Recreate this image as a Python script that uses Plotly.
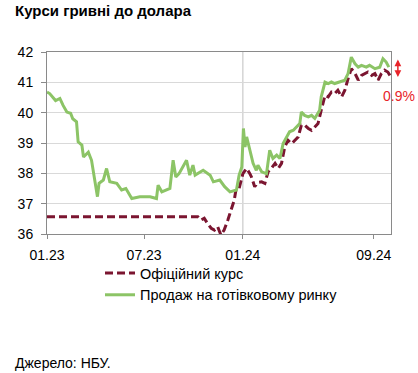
import plotly.graph_objects as go

# Official NBU rate (UAH per USD)
official_dates = [
    "2023-01-01", "2023-10-09", "2023-10-15", "2023-10-21", "2023-10-27", "2023-11-03",
    "2023-11-09", "2023-11-15", "2023-11-21", "2023-11-27", "2023-12-04", "2023-12-10",
    "2023-12-16", "2023-12-19", "2023-12-25", "2024-01-01", "2024-01-08", "2024-01-14",
    "2024-01-17", "2024-01-23", "2024-01-29", "2024-02-05", "2024-02-11", "2024-02-17",
    "2024-02-23", "2024-03-01", "2024-03-07", "2024-03-13", "2024-03-19", "2024-03-25",
    "2024-04-01", "2024-04-07", "2024-04-13", "2024-04-19", "2024-04-25", "2024-05-02",
    "2024-05-08", "2024-05-14", "2024-05-20", "2024-05-26", "2024-06-02", "2024-06-08",
    "2024-06-14", "2024-06-20", "2024-06-26", "2024-07-03", "2024-07-09", "2024-07-15",
    "2024-07-21", "2024-07-28", "2024-08-03", "2024-08-09", "2024-08-15", "2024-08-21",
    "2024-08-28", "2024-09-03", "2024-09-09", "2024-09-15", "2024-09-21", "2024-09-27",
    "2024-10-01",
]
official_values = [
    36.57, 36.57, 36.46, 36.52, 36.35, 36.19,
    36.13, 36.24, 35.97, 36.13, 36.46, 36.79,
    37.12, 37.45, 37.50, 37.99, 38.16, 37.99,
    37.88, 37.56, 37.70, 37.72, 37.67, 38.05,
    38.16, 38.33, 38.16, 38.33, 38.87, 39.09,
    38.98, 39.09, 39.20, 39.59, 39.59, 39.48,
    39.42, 39.53, 39.64, 40.08, 40.57, 40.52,
    40.68, 40.63, 40.74, 40.52, 40.74, 41.12,
    41.45, 41.29, 41.07, 41.23, 41.29, 41.34,
    41.23, 41.29, 41.07, 41.29, 41.40, 41.34,
    41.23,
]

# Cash market selling rate
cash_dates = [
    "2023-01-01", "2023-01-06", "2023-01-17", "2023-01-25", "2023-01-31", "2023-02-07",
    "2023-02-14", "2023-02-18", "2023-02-25", "2023-02-28", "2023-03-07", "2023-03-10",
    "2023-03-19", "2023-03-25", "2023-03-30", "2023-04-05", "2023-04-08", "2023-04-16",
    "2023-04-22", "2023-04-28", "2023-05-11", "2023-05-20", "2023-05-28", "2023-06-08",
    "2023-06-23", "2023-07-12", "2023-07-24", "2023-07-27", "2023-08-03", "2023-08-18",
    "2023-08-24", "2023-08-29", "2023-09-04", "2023-09-18", "2023-09-24", "2023-09-30",
    "2023-10-04", "2023-10-19", "2023-11-01", "2023-11-07", "2023-11-19", "2023-11-28",
    "2023-12-08", "2023-12-20", "2023-12-25", "2023-12-30", "2024-01-02", "2024-01-05",
    "2024-01-08", "2024-01-14", "2024-01-20", "2024-01-26", "2024-01-29", "2024-02-05",
    "2024-02-14", "2024-02-20", "2024-02-26", "2024-03-04", "2024-03-10", "2024-03-16",
    "2024-03-22", "2024-03-28", "2024-04-04", "2024-04-10", "2024-04-16", "2024-04-19",
    "2024-04-25", "2024-05-02", "2024-05-08", "2024-05-14", "2024-05-23", "2024-05-26",
    "2024-06-02", "2024-06-08", "2024-06-14", "2024-06-20", "2024-06-30", "2024-07-09",
    "2024-07-15", "2024-07-21", "2024-07-28", "2024-08-03", "2024-08-09", "2024-08-18",
    "2024-08-24", "2024-09-03", "2024-09-12", "2024-09-18", "2024-09-24", "2024-09-29",
]
cash_values = [
    40.68, 40.63, 40.40, 40.47, 40.24, 40.02,
    39.98, 39.80, 39.70, 39.04, 38.93, 38.54,
    38.70, 38.43, 37.88, 37.23, 37.67, 37.78,
    38.16, 37.72, 37.67, 37.45, 37.50, 37.17,
    37.23, 37.23, 37.17, 37.61, 37.39, 37.50,
    38.43, 37.88, 37.99, 38.43, 37.94, 38.27,
    37.94, 38.10, 37.94, 37.72, 37.78, 37.56,
    37.39, 37.45, 37.94, 38.21, 39.48, 38.87,
    39.20, 38.76, 38.33, 38.10, 38.27, 38.05,
    37.99, 38.76, 38.49, 38.60, 38.49, 38.98,
    39.20, 39.37, 39.42, 39.53, 39.64, 40.02,
    39.91, 39.86, 39.91, 39.81, 40.08, 40.52,
    41.01, 40.96, 41.01, 40.96, 41.01, 41.07,
    41.29, 41.83, 41.61, 41.50, 41.56, 41.50,
    41.56, 41.45, 41.50, 41.78, 41.67, 41.50,
]

series_names = ["Офіційний курс", "Продаж на готівковому ринку"]
tick_dates = ["2023-01-01", "2023-07-01", "2024-01-01", "2024-09-01"]
tick_labels = ["01.23", "07.23", "01.24", "09.24"]
y_ticks = [36, 37, 38, 39, 40, 41, 42]
gap_label = "0.9%"
title_text = "Курси гривні до долара"
source_text = "Джерело: НБУ."

RED = "#7B1530"
GREEN = "#8CC466"
FONT = "Liberation Sans, Arial, sans-serif"

PW, PH = 344, 182  # plot area size in px

fig = go.Figure()
fig.add_trace(go.Scatter(
    x=official_dates, y=official_values, mode="lines", name=series_names[0],
    line=dict(color=RED, width=3, dash="8px,4px"),
))
fig.add_trace(go.Scatter(
    x=cash_dates, y=cash_values, mode="lines", name=series_names[1],
    line=dict(color=GREEN, width=3),
))

# single vertical gridline at 01.24
fig.add_shape(type="line", xref="x", yref="paper", x0="2024-01-01", x1="2024-01-01",
              y0=0, y1=1, line=dict(color="#BFBFBF", width=1), layer="below")

fig.update_layout(
    width=418, height=373,
    margin=dict(l=47, r=27, t=52, b=139, autoexpand=False),
    paper_bgcolor="white", plot_bgcolor="white",
    font=dict(family=FONT, size=14, color="black"),
    showlegend=True,
    legend=dict(
        x=(100 - 47) / PW, y=-(257 - 234) / PH,
        xanchor="left", yanchor="top",
        font=dict(size=14.5, family=FONT), bgcolor="rgba(0,0,0,0)",
        tracegroupgap=0, itemwidth=30,
    ),
    xaxis=dict(
        range=["2023-01-01", "2024-10-03"], type="date",
        tickvals=tick_dates, ticktext=tick_labels, tickangle=0,
        showgrid=False, showline=True, linecolor="#8A8A8A", linewidth=1, mirror=True,
        ticks="outside", ticklen=4, tickcolor="#8A8A8A", ticklabelstandoff=4,
        tickfont=dict(size=14, family=FONT), zeroline=False,
    ),
    yaxis=dict(
        range=[36, 42], tickvals=y_ticks,
        showgrid=True, gridcolor="#D9D9D9", gridwidth=1,
        showline=True, linecolor="#8A8A8A", linewidth=1, mirror=True,
        ticks="outside", ticklen=5, tickcolor="#8A8A8A", ticklabelstandoff=5,
        tickfont=dict(size=14, family=FONT), zeroline=False,
    ),
    annotations=[
        dict(text="<b>" + title_text + "</b>", xref="paper", yref="paper",
             x=-34 / PW, y=1 + 41 / PH, xanchor="left", yanchor="middle",
             showarrow=False, font=dict(size=15, family=FONT, color="black")),
        dict(text=source_text, xref="paper", yref="paper",
             x=-34 / PW, y=-129 / PH, xanchor="left", yanchor="middle",
             showarrow=False, font=dict(size=14, family=FONT, color="black")),
        dict(text=gap_label, xref="paper", yref="y", x=1.0, y=40.55,
             xanchor="left", yanchor="middle", xshift=-10,
             showarrow=False, font=dict(size=14, family=FONT, color="#E8242A")),
        dict(text="", xref="paper", yref="y", x=1.02, y=41.75,
             ax=0, ay=19, axref="pixel", ayref="pixel",
             showarrow=True, arrowhead=2, startarrowhead=2, arrowside="end+start",
             arrowsize=0.9, arrowwidth=1.5, arrowcolor="#E8242A"),
    ],
)

fig.write_html("out.html")
